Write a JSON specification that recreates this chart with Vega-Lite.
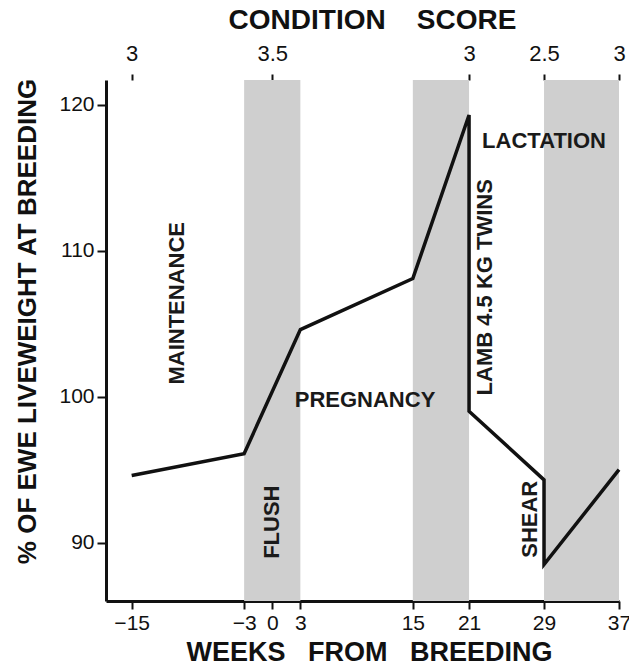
{
  "$schema": "https://vega.github.io/schema/vega-lite/v6.json",
  "width": 513,
  "height": 521,
  "autosize": {"type": "none"},
  "padding": {"left": 106, "top": 80, "right": 10, "bottom": 65},
  "background": "white",
  "config": {
    "view": {"stroke": null},
    "font": "Liberation Sans",
    "axis": {"grid": false, "domainColor": "#111", "tickColor": "#111", "labelColor": "#111", "titleColor": "#111", "labelFont": "Liberation Sans", "titleFont": "Liberation Sans"}
  },
  "datasets": {
    "weight": [
      {"step": 1, "week": -15, "pct": 94.6},
      {"step": 2, "week": -3, "pct": 96.1},
      {"step": 3, "week": 3, "pct": 104.6},
      {"step": 4, "week": 15, "pct": 108.1},
      {"step": 5, "week": 21, "pct": 119.3},
      {"step": 6, "week": 21, "pct": 99.0},
      {"step": 7, "week": 29, "pct": 94.3},
      {"step": 8, "week": 29, "pct": 88.5},
      {"step": 9, "week": 37, "pct": 95.0}
    ],
    "bands": [
      {"start": -3, "end": 3},
      {"start": 15, "end": 21},
      {"start": 29, "end": 37}
    ],
    "hlabels": [
      {"label": "PREGNANCY", "week": 9.9, "pct": 99.8},
      {"label": "LACTATION", "week": 29.0, "pct": 117.5}
    ],
    "vlabels": [
      {"label": "MAINTENANCE", "week": -10.2, "pct": 106.4},
      {"label": "FLUSH", "week": 0.0, "pct": 91.4},
      {"label": "LAMB 4.5 KG TWINS", "week": 22.7, "pct": 107.5},
      {"label": "SHEAR", "week": 27.5, "pct": 91.6}
    ],
    "condition": [
      {"week": -15, "score": "3"},
      {"week": 0, "score": "3.5"},
      {"week": 21, "score": "3"},
      {"week": 29, "score": "2.5"},
      {"week": 37, "score": "3"}
    ]
  },
  "resolve": {"axis": {"x": "independent"}},
  "layer": [
    {
      "data": {"name": "bands"},
      "mark": {"type": "rect", "fill": "#cfcfcf"},
      "encoding": {
        "x": {"field": "start", "type": "quantitative", "scale": {"domain": [-17.74, 37], "nice": false, "zero": false}, "axis": null},
        "x2": {"field": "end"}
      }
    },
    {
      "data": {"name": "hlabels"},
      "mark": {"type": "text", "fontSize": 22, "fontWeight": "bold", "color": "#1a1a1a", "align": "center", "baseline": "middle"},
      "encoding": {
        "x": {"field": "week", "type": "quantitative", "scale": {"domain": [-17.74, 37], "nice": false, "zero": false}, "axis": null},
        "y": {"field": "pct", "type": "quantitative", "scale": {"domain": [86, 121.7], "nice": false, "zero": false}},
        "text": {"field": "label"}
      }
    },
    {
      "data": {"name": "vlabels"},
      "mark": {"type": "text", "fontSize": 22, "fontWeight": "bold", "color": "#1a1a1a", "align": "center", "baseline": "middle", "angle": 270},
      "encoding": {
        "x": {"field": "week", "type": "quantitative", "scale": {"domain": [-17.74, 37], "nice": false, "zero": false}, "axis": null},
        "y": {"field": "pct", "type": "quantitative", "scale": {"domain": [86, 121.7], "nice": false, "zero": false}},
        "text": {"field": "label"}
      }
    },
    {
      "data": {"name": "weight"},
      "mark": {"type": "line", "color": "#111", "strokeWidth": 3.5, "strokeJoin": "miter", "strokeCap": "butt"},
      "encoding": {
        "x": {
          "field": "week", "type": "quantitative",
          "scale": {"domain": [-17.74, 37], "nice": false, "zero": false},
          "axis": {
            "orient": "bottom",
            "values": [-15, -3, 0, 3, 15, 21, 29, 37],
            "domainWidth": 3, "tickWidth": 2, "tickSize": 8,
            "labelFontSize": 21, "labelPadding": 3, "labelFlush": false, "labelOverlap": false,
            "title": "WEEKS\u00a0\u00a0 FROM\u00a0\u00a0 BREEDING",
            "titleFontSize": 27, "titleFontWeight": "bold", "titlePadding": 6, "titleX": 263
          }
        },
        "y": {
          "field": "pct", "type": "quantitative",
          "scale": {"domain": [86, 121.7], "nice": false, "zero": false},
          "axis": {
            "values": [90, 100, 110, 120],
            "domainWidth": 3, "tickWidth": 2, "tickSize": 9,
            "labelFontSize": 21, "labelPadding": 3,
            "title": "% OF EWE LIVEWEIGHT AT BREEDING",
            "titleFontSize": 26, "titleFontWeight": "bold", "titlePadding": 18, "titleY": 241
          }
        },
        "order": {"field": "step", "type": "quantitative"}
      }
    },
    {
      "data": {"name": "condition"},
      "mark": {"type": "point", "opacity": 0},
      "encoding": {
        "x": {
          "field": "week", "type": "quantitative",
          "scale": {"domain": [-17.74, 37], "nice": false, "zero": false},
          "axis": {
            "orient": "top",
            "values": [-15, 0, 21, 29, 37],
            "labelExpr": "datum.value == 0 ? '3.5' : datum.value == 29 ? '2.5' : '3'",
            "domain": false, "tickWidth": 2, "tickSize": 6,
            "labelFontSize": 22, "labelPadding": 9, "labelFlush": false, "labelOverlap": false,
            "title": "CONDITION\u00a0\u00a0\u00a0 SCORE",
            "titleFontSize": 28, "titleFontWeight": "bold", "titlePadding": 8, "titleX": 266
          }
        }
      }
    }
  ]
}
